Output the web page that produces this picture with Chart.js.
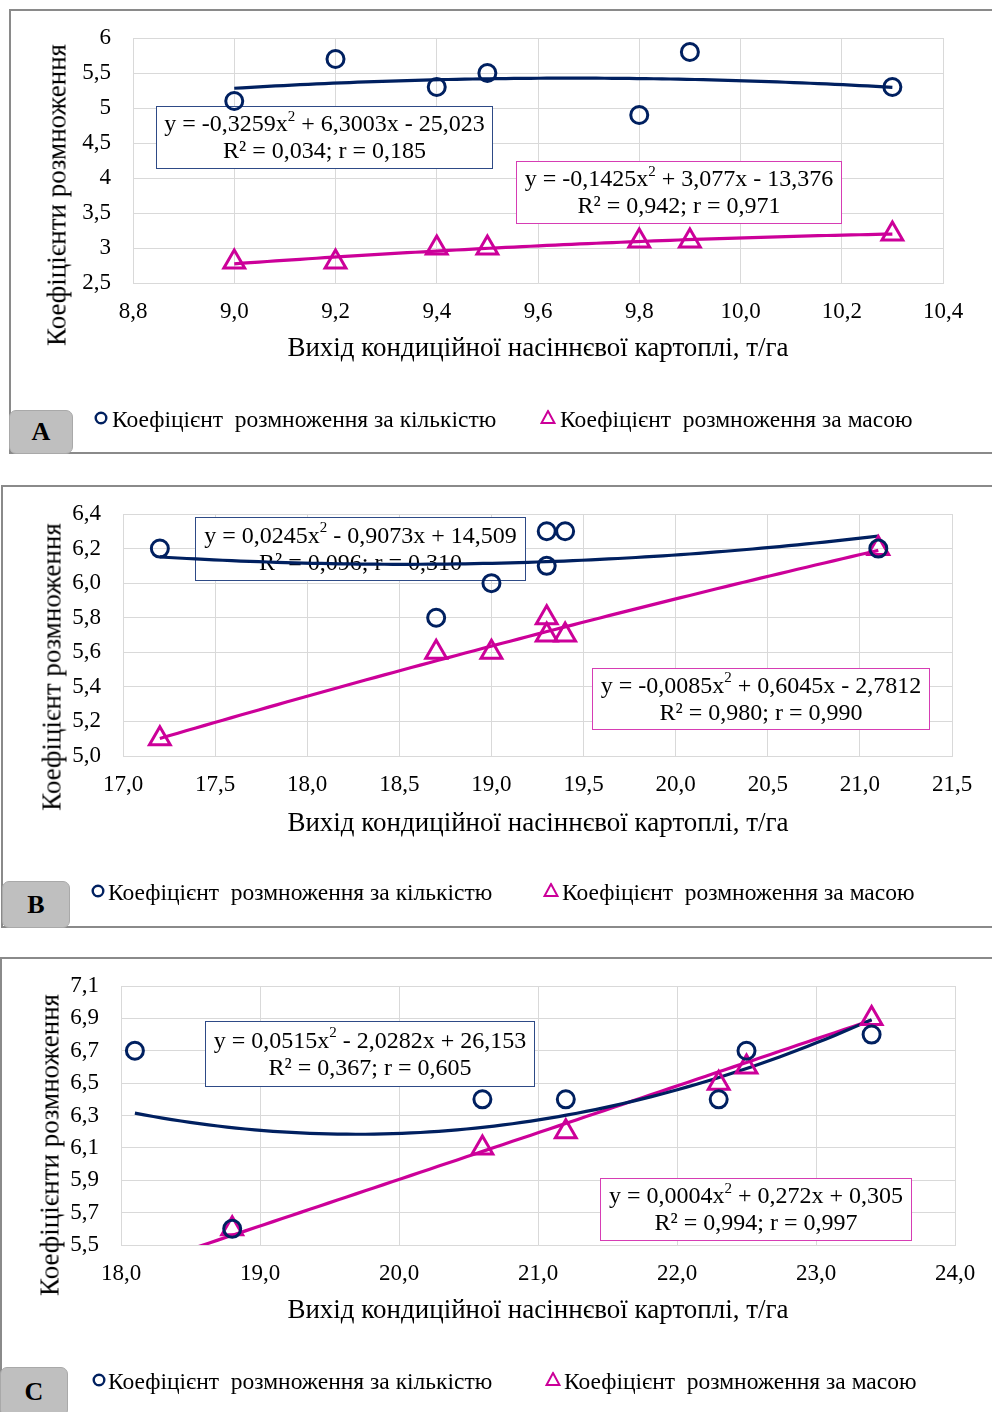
<!DOCTYPE html>
<html>
<head>
<meta charset="utf-8">
<script src="https://cdn.jsdelivr.net/npm/chart.js@4.4.1/dist/chart.umd.min.js"></script>
<style>
  html, body { margin: 0; padding: 0; background: #fff; }
  body { width: 992px; height: 1412px; position: relative; overflow: hidden;
         font-family: 'Liberation Serif', 'Times New Roman', serif; color: #000; }
  .wrap { position: absolute; left: 0; width: 992px; }
  .wrap canvas { position: absolute; left: 0; top: 0; }
  .frame { position: absolute; width: 1010px; border: 2px solid #8a8a8a; box-sizing: border-box; }
  .ytitle { position: absolute; font-size: 27px; white-space: nowrap;
            transform: translate(-50%, -50%) rotate(-90deg); }
  .xtitle { position: absolute; font-size: 27px; white-space: nowrap; transform: translate(-50%, -50%); }
  .legend { position: absolute; font-size: 23.5px; white-space: pre; transform: translateY(-50%); }
  .mk { position: absolute; transform: translate(-50%, -50%); }
  .letter { position: absolute; background: #bfbfbf; border: 1px solid #a9a9a9; border-radius: 7px;
            box-sizing: border-box; font-weight: bold; font-size: 26px;
            display: flex; align-items: center; justify-content: center; }
</style>
</head>
<body>

<!-- Panel A -->
<div class="wrap" style="top:0;height:460px">
  <div class="frame" style="left:9px;top:9px;height:445px"></div>
  <canvas id="chartA" width="992" height="460"></canvas>
  <div class="ytitle" style="left:57px;top:195px">Коефіцієнти розмноження</div>
  <div class="xtitle" style="left:538px;top:347px">Вихід кондиційної насіннєвої картоплі, т/га</div>
  <svg class="mk" style="left:101px;top:418px" width="14" height="14"><circle cx="7" cy="7" r="5.3" fill="none" stroke="#002060" stroke-width="2.4"/></svg>
  <div class="legend" style="left:112px;top:419px">Коефіцієнт  розмноження за кількістю</div>
  <svg class="mk" style="left:548px;top:417px" width="16" height="15"><polygon points="8,1.5 14.5,13.5 1.5,13.5" fill="none" stroke="#cc0099" stroke-width="2"/></svg>
  <div class="legend" style="left:560px;top:419px">Коефіцієнт  розмноження за масою</div>
  <div class="letter" style="left:9px;top:410px;width:64px;height:44px">A</div>
</div>

<!-- Panel B -->
<div class="wrap" style="top:470px;height:465px">
  <div class="frame" style="left:1px;top:15px;height:443px"></div>
  <canvas id="chartB" width="992" height="465"></canvas>
  <div class="ytitle" style="left:52px;top:197px">Коефіцієнт розмноження</div>
  <div class="xtitle" style="left:538px;top:352px">Вихід кондиційної насіннєвої картоплі, т/га</div>
  <svg class="mk" style="left:98px;top:421px" width="14" height="14"><circle cx="7" cy="7" r="5.3" fill="none" stroke="#002060" stroke-width="2.4"/></svg>
  <div class="legend" style="left:108px;top:422px">Коефіцієнт  розмноження за кількістю</div>
  <svg class="mk" style="left:551px;top:420px" width="16" height="15"><polygon points="8,1.5 14.5,13.5 1.5,13.5" fill="none" stroke="#cc0099" stroke-width="2"/></svg>
  <div class="legend" style="left:562px;top:422px">Коефіцієнт  розмноження за масою</div>
  <div class="letter" style="left:2px;top:411px;width:68px;height:47px">B</div>
</div>

<!-- Panel C -->
<div class="wrap" style="top:945px;height:467px">
  <div class="frame" style="left:0px;top:12px;height:480px"></div>
  <canvas id="chartC" width="992" height="467"></canvas>
  <div class="ytitle" style="left:50px;top:200px">Коефіцієнти розмноження</div>
  <div class="xtitle" style="left:538px;top:364px">Вихід кондиційної насіннєвої картоплі, т/га</div>
  <svg class="mk" style="left:99px;top:435px" width="14" height="14"><circle cx="7" cy="7" r="5.3" fill="none" stroke="#002060" stroke-width="2.4"/></svg>
  <div class="legend" style="left:108px;top:436px">Коефіцієнт  розмноження за кількістю</div>
  <svg class="mk" style="left:553px;top:434px" width="16" height="15"><polygon points="8,1.5 14.5,13.5 1.5,13.5" fill="none" stroke="#cc0099" stroke-width="2"/></svg>
  <div class="legend" style="left:564px;top:436px">Коефіцієнт  розмноження за масою</div>
  <div class="letter" style="left:0px;top:422px;width:68px;height:50px">C</div>
</div>

<script>
// ---- data, panel A ----
const xA = [9.0, 9.2, 9.4, 9.5, 9.8, 9.9, 10.3];
const countA = [5.1, 5.7, 5.3, 5.5, 4.9, 5.8, 5.3];
const massA = [2.8, 2.8, 3.0, 3.0, 3.1, 3.1, 3.2];
const coefCountA = [-0.3259, 6.3003, -25.023];
const coefMassA = [-0.1425, 3.077, -13.376];
const eqCountA = ['y = -0,3259x^2 + 6,3003x - 25,023', 'R² = 0,034; r = 0,185'];
const eqMassA = ['y = -0,1425x^2 + 3,077x - 13,376', 'R² = 0,942; r = 0,971'];
const xTicksA = ['8,8', '9,0', '9,2', '9,4', '9,6', '9,8', '10,0', '10,2', '10,4'];
const yTicksA = ['2,5', '3', '3,5', '4', '4,5', '5', '5,5', '6'];

// ---- data, panel B ----
const xB = [17.2, 18.7, 19.0, 19.3, 19.3, 19.4, 21.1];
const countB = [6.2, 5.8, 6.0, 6.3, 6.1, 6.3, 6.2];
const massB = [5.1, 5.6, 5.6, 5.8, 5.7, 5.7, 6.2];
const coefCountB = [0.0245, -0.9073, 14.509];
const coefMassB = [-0.0085, 0.6045, -2.7812];
const eqCountB = ['y = 0,0245x^2 - 0,9073x + 14,509', 'R² = 0,096; r = 0,310'];
const eqMassB = ['y = -0,0085x^2 + 0,6045x - 2,7812', 'R² = 0,980; r = 0,990'];
const xTicksB = ['17,0', '17,5', '18,0', '18,5', '19,0', '19,5', '20,0', '20,5', '21,0', '21,5'];
const yTicksB = ['5,0', '5,2', '5,4', '5,6', '5,8', '6,0', '6,2', '6,4'];

// ---- data, panel C ----
const xC = [18.1, 18.8, 20.6, 21.2, 22.3, 22.5, 23.4];
const countC = [6.7, 5.6, 6.4, 6.4, 6.4, 6.7, 6.8];
const xMassC = [18.8, 20.6, 21.2, 22.3, 22.5, 23.4];
const massC = [5.6, 6.1, 6.2, 6.5, 6.6, 6.9];
const coefCountC = [0.0515, -2.0282, 26.153];
const coefMassC = [0.0004, 0.272, 0.305];
const eqCountC = ['y = 0,0515x^2 - 2,0282x + 26,153', 'R² = 0,367; r = 0,605'];
const eqMassC = ['y = 0,0004x^2 + 0,272x + 0,305', 'R² = 0,994; r = 0,997'];
const xTicksC = ['18,0', '19,0', '20,0', '21,0', '22,0', '23,0', '24,0'];
const yTicksC = ['5,5', '5,7', '5,9', '6,1', '6,3', '6,5', '6,7', '6,9', '7,1'];

const NAVY = '#002060';
const PINK = '#cc0099';
const GRID = '#d9d9d9';
const FONT = "'Liberation Serif', 'Times New Roman', serif";

function toPoints(xs, ys) {
  return xs.map((x, i) => ({ x: x, y: ys[i] }));
}

// regression curve from the equation printed on the chart
function trend(coef, x0, x1) {
  const pts = [];
  const n = 80;
  for (let i = 0; i <= n; i++) {
    const x = x0 + (x1 - x0) * i / n;
    pts.push({ x: x, y: coef[0] * x * x + coef[1] * x + coef[2] });
  }
  return pts;
}

// equation labels, drawn over the grid but under the marks
const eqBoxes = {
  id: 'eqBoxes',
  beforeDatasetsDraw(chart, args, opts) {
    const ctx = chart.ctx;
    const main = '24px ' + FONT, sup = '15px ' + FONT;
    (opts.boxes || []).forEach(b => {
      ctx.save();
      ctx.fillStyle = '#fff';
      ctx.fillRect(b.x, b.y, b.w, b.h);
      ctx.strokeStyle = b.color;
      ctx.lineWidth = 1;
      ctx.strokeRect(b.x + 0.5, b.y + 0.5, b.w - 1, b.h - 1);
      ctx.fillStyle = '#000';
      ctx.textBaseline = 'middle';
      ctx.textAlign = 'left';
      b.lines.forEach((line, i) => {
        const parts = line.split('^2');
        let total = 0;
        parts.forEach((s, k) => {
          ctx.font = main; total += ctx.measureText(s).width;
          if (k < parts.length - 1) { ctx.font = sup; total += ctx.measureText('2').width; }
        });
        let x = b.x + b.w / 2 - total / 2;
        const y = b.y + b.h / 2 + (i - (b.lines.length - 1) / 2) * 27 + 1;
        parts.forEach((s, k) => {
          ctx.font = main; ctx.fillText(s, x, y); x += ctx.measureText(s).width;
          if (k < parts.length - 1) { ctx.font = sup; ctx.fillText('2', x, y - 8); x += ctx.measureText('2').width; }
        });
      });
      ctx.restore();
    });
  }
};

function makeChart(id, p) {
  const canvas = document.getElementById(id);
  const H = canvas.height, W = canvas.width;
  return new Chart(canvas.getContext('2d'), {
    type: 'scatter',
    plugins: [eqBoxes],
    data: {
      datasets: [
        { label: 'count', data: toPoints(p.x, p.count), pointStyle: 'circle', pointRadius: 8.5,
          pointBorderWidth: 3, borderColor: NAVY, backgroundColor: 'rgba(0,0,0,0)', order: 0 },
        { label: 'mass', data: toPoints(p.xm || p.x, p.mass), pointStyle: 'triangle', pointRadius: 12,
          pointBorderWidth: 3, borderColor: PINK, backgroundColor: 'rgba(0,0,0,0)', order: 0 },
        { type: 'line', label: 'count trend', data: trend(p.cc, p.x[0], p.x[p.x.length - 1]),
          borderColor: NAVY, borderWidth: 3.2, pointRadius: 0, fill: false, order: 1 },
        { type: 'line', label: 'mass trend', data: trend(p.cm, p.x[0], p.x[p.x.length - 1]),
          borderColor: PINK, borderWidth: 3.2, pointRadius: 0, fill: false, order: 1 }
      ]
    },
    options: {
      responsive: false,
      animation: false,
      layout: { padding: { left: 0, top: p.area[1], right: W - p.area[2], bottom: 0 } },
      plugins: {
        legend: { display: false },
        tooltip: { enabled: false },
        eqBoxes: { boxes: p.boxes }
      },
      scales: {
        x: {
          type: 'linear', min: p.xr[0], max: p.xr[1],
          grid: { color: GRID, drawTicks: false },
          border: { color: GRID },
          ticks: { stepSize: p.xr[2], autoSkip: false, maxRotation: 0, padding: 15, color: '#000',
                   font: { family: FONT, size: 23 }, callback: (v, i) => p.xt[i] },
          afterFit: s => { s.height = H - p.area[3]; }
        },
        y: {
          type: 'linear', min: p.yr[0], max: p.yr[1],
          grid: { color: GRID, drawTicks: false },
          border: { color: GRID },
          ticks: { stepSize: p.yr[2], autoSkip: false, padding: 22, color: '#000',
                   font: { family: FONT, size: 23 }, callback: (v, i) => p.yt[i] },
          afterFit: s => { s.width = p.area[0]; }
        }
      }
    }
  });
}

makeChart('chartA', { x: xA, count: countA, mass: massA, cc: coefCountA, cm: coefMassA,
  xr: [8.8, 10.4, 0.2], yr: [2.5, 6, 0.5], xt: xTicksA, yt: yTicksA, area: [133, 38, 943, 283],
  boxes: [{ x: 156, y: 106, w: 337, h: 63, color: '#2e4a86', lines: eqCountA },
          { x: 516, y: 161, w: 326, h: 63, color: '#d63db4', lines: eqMassA }] });
makeChart('chartB', { x: xB, count: countB, mass: massB, cc: coefCountB, cm: coefMassB,
  xr: [17, 21.5, 0.5], yr: [5, 6.4, 0.2], xt: xTicksB, yt: yTicksB, area: [123, 44, 952, 286],
  boxes: [{ x: 195, y: 47, w: 331, h: 64, color: '#2e4a86', lines: eqCountB },
          { x: 592, y: 198, w: 338, h: 62, color: '#d63db4', lines: eqMassB }] });
makeChart('chartC', { x: xC, count: countC, xm: xMassC, mass: massC, cc: coefCountC, cm: coefMassC,
  xr: [18, 24, 1], yr: [5.5, 7.1, 0.2], xt: xTicksC, yt: yTicksC, area: [121, 41, 955, 300],
  boxes: [{ x: 205, y: 76, w: 330, h: 66, color: '#2e4a86', lines: eqCountC },
          { x: 600, y: 233, w: 312, h: 63, color: '#d63db4', lines: eqMassC }] });
</script>
</body>
</html>
